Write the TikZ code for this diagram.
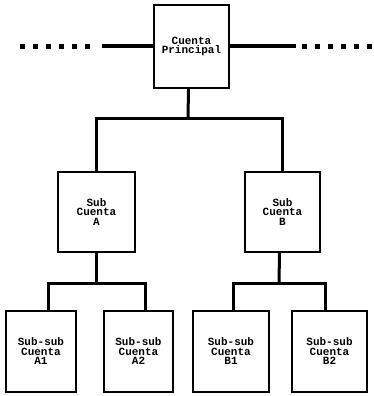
\documentclass[tikz,border=0pt]{standalone}
\usepackage{fontspec}
\setmonofont{Liberation Mono}
\usepackage{tikz}
\usetikzlibrary{positioning}

\begin{document}
\begin{tikzpicture}[
  x=1pt, y=-1pt,
  cuenta/.style={draw, line width=2.2pt, inner sep=0pt, align=center,
    font=\ttfamily\bfseries\fontsize{11}{9.5}\selectfont},
  link/.style={line width=3pt},
  bar/.style={line width=4pt},
  dots/.style={line width=5pt, dash pattern=on 5pt off 8pt}
]
\useasboundingbox (0,0) rectangle (373,396);

\node[cuenta, minimum width=75, minimum height=83] (main) at (191.5,46.5) {Cuenta\\Principal};
\node[cuenta, minimum width=77, minimum height=80] (subA) at (96.5,212) {Sub\\Cuenta\\A};
\node[cuenta, minimum width=75, minimum height=80] (subB) at (282.5,212) {Sub\\Cuenta\\B};
\node[cuenta, minimum width=70, minimum height=81] (subA1) at (41,351.5) {Sub-sub\\Cuenta\\A1};
\node[cuenta, minimum width=69, minimum height=81] (subA2) at (138.5,351.5) {Sub-sub\\Cuenta\\A2};
\node[cuenta, minimum width=76, minimum height=81] (subB1) at (231,351.5) {Sub-sub\\Cuenta\\B1};
\node[cuenta, minimum width=75, minimum height=81] (subB2) at (329.5,351.5) {Sub-sub\\Cuenta\\B2};

% side lines of the main account
\coordinate (leftBar) at ([xshift=-51pt]main.west);
\coordinate (rightBar) at ([xshift=66pt]main.east);
\draw[bar] (leftBar) -- (main.west);
\draw[bar] (main.east) -- (rightBar);
\draw[dots] ([xshift=-82pt]leftBar) -- ([xshift=-5pt]leftBar);
\draw[dots] ([xshift=6pt]rightBar) -- ([xshift=76pt]rightBar);

% first level
\coordinate (busTop) at (188,118);
\draw[link] ([xshift=-3pt]main.south) -- (busTop);
\draw[link] (subA.north) |- (busTop) -| (subB.north);

% second level
\coordinate (busA) at (96.5,283);
\coordinate (busB) at (279,283);
\draw[link] (subA.south) -- (busA);
\draw[link] ([xshift=7pt]subA1.north) |- (busA) -| ([xshift=7pt]subA2.north);
\draw[link] ([xshift=-3pt]subB.south) -- (busB);
\draw[link] ([xshift=2pt]subB1.north) |- (busB) -| ([xshift=-4pt]subB2.north);
\end{tikzpicture}
\end{document}
